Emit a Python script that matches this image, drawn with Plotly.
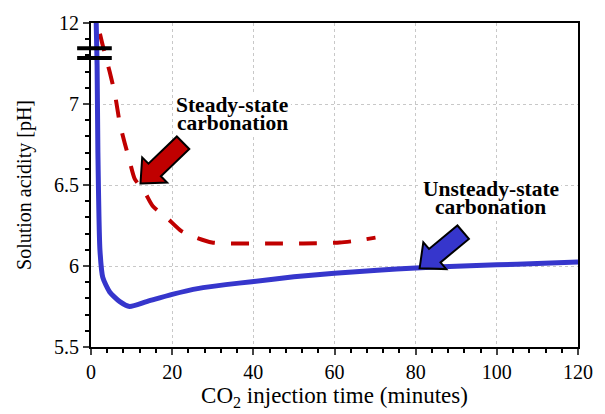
import plotly.graph_objects as go

# ---- data (y in plotted-axis units; top of axis labelled 12 after the break) ----
unsteady_t = [1.2, 1.5, 1.7, 2.2, 2.9, 4.6, 7.1, 9.5, 13.7, 20.0, 26.6, 33.2, 39.6, 50, 60, 70.6, 80, 90, 100, 110, 120]
unsteady_ph = [7.6, 7.24, 6.7, 6.1, 5.93, 5.84, 5.78, 5.75, 5.78, 5.825, 5.862, 5.885, 5.903, 5.933, 5.955, 5.974, 5.988, 5.998, 6.007, 6.016, 6.024]

steady_t = [2.2, 2.9, 4.6, 5.9, 7.1, 8.3, 9.5, 10.8, 13.2, 15.2, 18.8, 22.2, 25.9, 29.8, 34.5, 43.0, 52.3, 61.3, 65.7, 70.1]
steady_ph = [7.434, 7.361, 7.199, 7.06, 6.88, 6.76, 6.65, 6.536, 6.458, 6.37, 6.295, 6.217, 6.175, 6.145, 6.139, 6.139, 6.139, 6.145, 6.157, 6.175]

x_ticks = [0, 20, 40, 60, 80, 100, 120]
y_tickvals = [5.5, 6.0, 6.5, 7.0, 7.5]
y_ticktext = ["5.5", "6", "6.5", "7", "12"]

steady_label = ["Steady-state", "carbonation"]
unsteady_label = ["Unsteady-state", "carbonation"]

# ---- layout geometry ----
W, H = 605, 414
ML, MR, MT, MB = 91, 22, 16, 65
PW, PH = W - ML - MR, H - MT - MB
XR = (0, 120)
YR = (5.5, 7.5)


def px2data(px, py):
    x = XR[0] + (px - ML) / PW * (XR[1] - XR[0])
    y = YR[1] - (py - MT) / PH * (YR[1] - YR[0])
    return x, y


def block_arrow(tip, tail, shaft_w=18, head_w=36, head_len=20):
    import math
    dx, dy = tail[0] - tip[0], tail[1] - tip[1]
    L = math.hypot(dx, dy)
    ux, uy = dx / L, dy / L
    nx, ny = -uy, ux
    bx, by = tip[0] + ux * head_len, tip[1] + uy * head_len
    pts = [
        tip,
        (bx + nx * head_w / 2, by + ny * head_w / 2),
        (bx + nx * shaft_w / 2, by + ny * shaft_w / 2),
        (tail[0] + nx * shaft_w / 2, tail[1] + ny * shaft_w / 2),
        (tail[0] - nx * shaft_w / 2, tail[1] - ny * shaft_w / 2),
        (bx - nx * shaft_w / 2, by - ny * shaft_w / 2),
        (bx - nx * head_w / 2, by - ny * head_w / 2),
    ]
    d = []
    for i, (px, py) in enumerate(pts):
        x, y = px2data(px, py)
        d.append(("M" if i == 0 else "L") + f"{x:.4f},{y:.4f}")
    return " ".join(d) + " Z"


fig = go.Figure()
fig.add_trace(go.Scatter(x=steady_t, y=steady_ph, mode="lines",
                         line=dict(color="#C00000", width=4, dash="18px,16px", shape="spline", smoothing=0.6),
                         showlegend=False))
fig.add_trace(go.Scatter(x=unsteady_t, y=unsteady_ph, mode="lines",
                         line=dict(color="#3636CC", width=5, shape="spline", smoothing=0.6),
                         showlegend=False))

font = "Liberation Serif"

fig.update_layout(
    width=W, height=H,
    margin=dict(l=ML, r=MR, t=MT, b=MB),
    paper_bgcolor="white", plot_bgcolor="white",
    font=dict(family=font, size=20, color="black"),
    xaxis=dict(range=list(XR), tickvals=x_ticks, ticks="outside", ticklen=6, tickwidth=2,
               showline=True, linecolor="black", linewidth=2, mirror=True,
               showgrid=True, gridcolor="#C8C8C8", griddash="dot", gridwidth=1,
               zeroline=False,
               minor=dict(dtick=4, tick0=0, ticks="outside", ticklen=4, tickwidth=1.5, tickcolor="black", showgrid=False),
               title=dict(text="CO<sub>2</sub> injection time (minutes)", font=dict(family=font, size=23), standoff=3),
               tickfont=dict(family=font, size=20)),
    yaxis=dict(range=list(YR), tickvals=y_tickvals, ticktext=y_ticktext, ticks="outside", ticklen=6, tickwidth=2,
               showline=True, linecolor="black", linewidth=2, mirror=True,
               showgrid=True, gridcolor="#C8C8C8", griddash="dot", gridwidth=1,
               zeroline=False,
               minor=dict(dtick=0.1, tick0=5.5, ticks="outside", ticklen=4, tickwidth=1.5, tickcolor="black", showgrid=False),
               title=dict(text="Solution acidity [pH]", font=dict(family=font, size=20), standoff=17),
               tickfont=dict(family=font, size=20)),
)

# white panels behind the labels (hide grid lines)
for (x0p, y0p, x1p, y1p) in ((175, 89, 293, 131), (424, 177, 566, 217)):
    xa, ya = px2data(x0p, y0p)
    xb, yb = px2data(x1p, y1p)
    fig.add_shape(type="rect", x0=xa, x1=xb, y0=yb, y1=ya, fillcolor="white",
                  line=dict(width=0), layer="above")

# text labels (one annotation per line for tight line spacing)
for lines, cx, cys in ((steady_label, 233.5, (100, 119)), (unsteady_label, 495, (187, 205))):
    for txt, cy in zip(lines, cys):
        ax_, ay_ = px2data(cx, cy)
        fig.add_annotation(x=ax_, y=ay_, text=f"<b>{txt}</b>", showarrow=False,
                           font=dict(size=21.5, family=font), borderpad=0)

# block arrows
fig.add_shape(type="path", path=block_arrow((141, 181), (184, 139)), fillcolor="#C00000",
              line=dict(color="black", width=2), layer="above")
fig.add_shape(type="path", path=block_arrow((423, 268), (467, 231)), fillcolor="#3636CC",
              line=dict(color="black", width=2), layer="above")

# axis break marks
for py in (42, 52):
    yp = (H - MB - py) / PH
    fig.add_shape(type="line", xref="paper", yref="paper", x0=(77 - ML) / PW, x1=(112 - ML) / PW,
                  y0=yp, y1=yp, line=dict(color="black", width=4), layer="above")

fig.write_html("out.html")
